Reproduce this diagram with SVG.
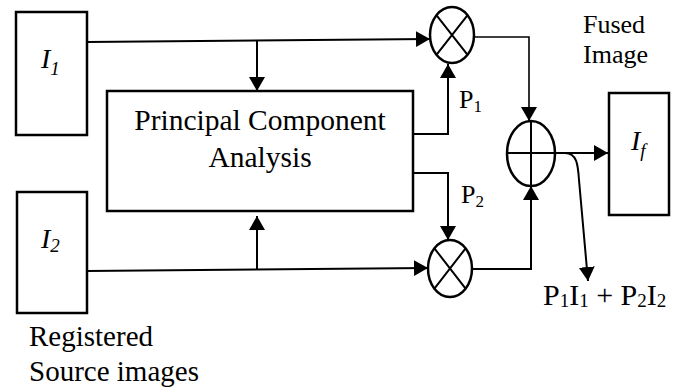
<svg xmlns="http://www.w3.org/2000/svg" width="678" height="388" viewBox="0 0 678 388" font-family="'Liberation Serif', 'Times New Roman', 'DejaVu Serif', serif">
  <style>
    .box { fill: #fff; stroke: #000; stroke-width: 2.5; }
    .op { fill: #fff; stroke: #000; stroke-width: 2.5; }
    .mark { fill: none; stroke: #000; stroke-width: 2; }
    .wire { fill: none; stroke: #000; stroke-width: 2; }
    .thin { fill: none; stroke: #000; stroke-width: 1.6; }
    .t { font-family: 'Liberation Serif', 'Times New Roman', 'DejaVu Serif', serif; fill: #000; }
    .lbl { font-size: 29.5px; }
    .sym { font-size: 28px; font-style: italic; }
    .sub { font-size: 19px; }
  </style>
  <defs>
    <marker id="arrow" markerUnits="userSpaceOnUse" markerWidth="15" markerHeight="17" refX="14" refY="8" orient="auto">
      <path d="M0,0 L14,8 L0,16 z" fill="#000"/>
    </marker>
  </defs>

  <!-- connectors -->
  <g id="connectors">
    <path class="wire" d="M87,42 L430,39" marker-end="url(#arrow)"/>
    <path class="wire" d="M257,41 L257,91" marker-end="url(#arrow)"/>
    <path class="wire" d="M87,271 L428,268" marker-end="url(#arrow)"/>
    <path class="wire" d="M257,269.5 L257,216" marker-end="url(#arrow)"/>
    <path class="thin" d="M474,37 L529,37 L529,121" marker-end="url(#arrow)"/>
    <path class="wire" d="M472,269 L531,269 L531,186" marker-end="url(#arrow)"/>
    <path class="wire" d="M413,134 L448,134 L448,64" marker-end="url(#arrow)"/>
    <path class="wire" d="M413,173 L448,173 L448,240" marker-end="url(#arrow)"/>
    <path class="wire" d="M555,153 L608,153" marker-end="url(#arrow)"/>
    <path class="wire" d="M565,153 C577,153 578,165 579,180 L588,281" marker-end="url(#arrow)"/>
  </g>

  <!-- source image I1 -->
  <g id="source1">
    <rect class="box" x="16" y="12" width="71" height="123"/>
    <text class="t sym" x="41" y="68">I<tspan class="sub" dy="7">1</tspan></text>
  </g>

  <!-- source image I2 -->
  <g id="source2">
    <rect class="box" x="17" y="192" width="70" height="121"/>
    <text class="t sym" x="41" y="248">I<tspan class="sub" dy="4">2</tspan></text>
  </g>

  <!-- PCA block -->
  <g id="pca">
    <rect class="box" x="107" y="91" width="306" height="120"/>
    <text class="t lbl" x="260" y="130" text-anchor="middle">Principal Component</text>
    <text class="t lbl" x="260" y="167" text-anchor="middle">Analysis</text>
  </g>

  <!-- weight labels -->
  <g id="weights">
    <text class="t" x="459" y="108" font-size="26">P<tspan font-size="17" dy="4">1</tspan></text>
    <text class="t" x="461" y="203" font-size="26">P<tspan font-size="17" dy="4">2</tspan></text>
  </g>

  <!-- multiplier 1 -->
  <g id="mult1">
    <ellipse class="op" cx="452" cy="35" rx="22" ry="28"/>
    <path class="mark" d="M436.4,15.2 L467.6,54.8 M467.6,15.2 L436.4,54.8"/>
  </g>

  <!-- multiplier 2 -->
  <g id="mult2">
    <ellipse class="op" cx="450" cy="268.5" rx="22" ry="28.5"/>
    <path class="mark" d="M434.4,248.3 L465.6,288.7 M465.6,248.3 L434.4,288.7"/>
  </g>

  <!-- summation -->
  <g id="sum">
    <ellipse class="op" cx="531" cy="153.5" rx="24" ry="32.5"/>
    <path class="mark" d="M507,153 L555,153 M531,121 L531,186"/>
  </g>

  <!-- fused output -->
  <g id="fused">
    <rect class="box" x="609" y="93" width="60" height="122"/>
    <text class="t sym" x="631" y="150">I<tspan class="sub" dy="7">f</tspan></text>
    <text class="t" x="583" y="33" font-size="26">Fused</text>
    <text class="t" x="583" y="63" font-size="26">Image</text>
  </g>

  <!-- output formula -->
  <g id="formula">
    <text class="t" x="543" y="305" font-size="30">P<tspan font-size="19" dy="2">1</tspan><tspan dy="-2">I</tspan><tspan font-size="19" dy="2">1</tspan><tspan dy="-2"> + P</tspan><tspan font-size="19" dy="2">2</tspan><tspan dy="-2">I</tspan><tspan font-size="19" dy="2">2</tspan></text>
  </g>

  <!-- source caption -->
  <g id="caption">
    <text class="t" x="29" y="346" font-size="29">Registered</text>
    <text class="t" x="29" y="381" font-size="29">Source images</text>
  </g>
</svg>
